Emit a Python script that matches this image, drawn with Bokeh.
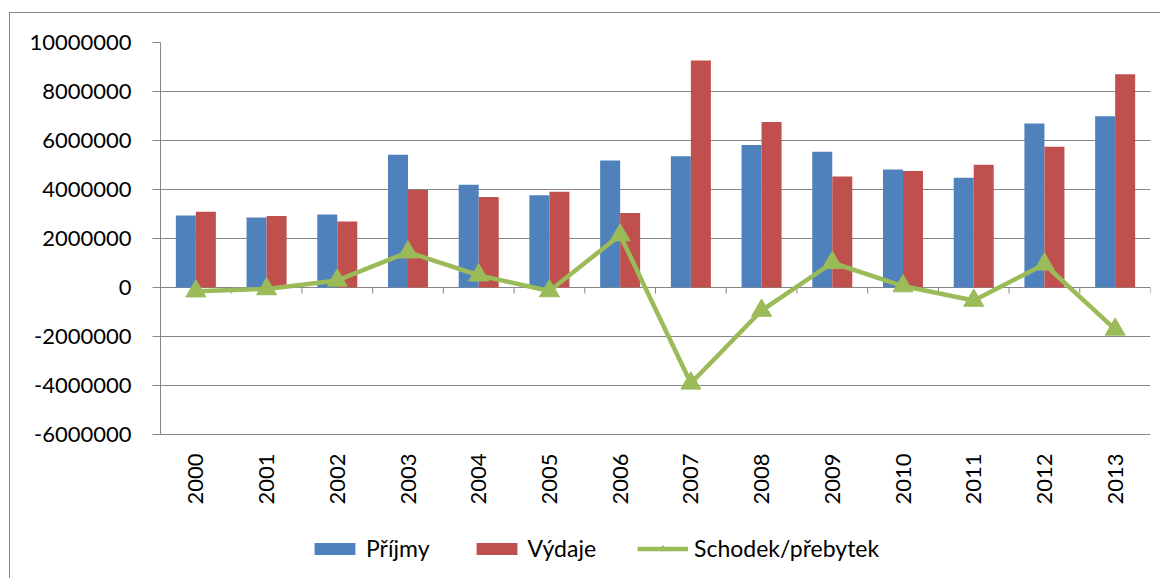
import math
from bokeh.plotting import figure
from bokeh.models import (FactorRange, Range1d, FixedTicker, PrintfTickFormatter,
                          Legend, LegendItem, ColumnDataSource)
from bokeh.transform import dodge
from bokeh.embed import file_html
from bokeh.resources import INLINE

years = ["2000", "2001", "2002", "2003", "2004", "2005", "2006",
         "2007", "2008", "2009", "2010", "2011", "2012", "2013"]
prijmy = [2940000, 2860000, 2980000, 5420000, 4190000, 3770000, 5180000,
          5360000, 5820000, 5540000, 4820000, 4480000, 6690000, 6990000]
vydaje = [3090000, 2920000, 2690000, 3980000, 3690000, 3910000, 3040000,
          9270000, 6760000, 4530000, 4760000, 5010000, 5740000, 8700000]
schodek = [-150000, -60000, 290000, 1440000, 500000, -140000, 2140000,
           -3910000, -940000, 1010000, 60000, -530000, 950000, -1710000]
y_ticks = [-6000000, -4000000, -2000000, 0, 2000000, 4000000, 6000000, 8000000, 10000000]

FONT = "Lato"
GREY = "#868686"
BLUE = "#4F81BD"
RED = "#C0504D"
GREEN = "#9BBB59"

# layout: 392 px of frame hold the value axis; the frame continues below it for labels/legend
AXIS_PX = 392
FRAME_PX = 536
per_px = (y_ticks[-1] - y_ticks[0]) / AXIS_PX
y_min = y_ticks[-1] - FRAME_PX * per_px

src = ColumnDataSource(dict(year=years, prijmy=prijmy, vydaje=vydaje, schodek=schodek))

p = figure(x_range=FactorRange(*years), y_range=Range1d(y_min, y_ticks[-1]),
           frame_width=990, frame_height=FRAME_PX, output_backend="svg", toolbar_location=None,
           min_border_left=150, min_border_right=10, min_border_top=29, min_border_bottom=0)
p.outline_line_color = None
p.styles = {"border-left": "1px solid " + GREY, "border-top": "1px solid " + GREY,
            "margin-left": "9px", "margin-top": "12px"}

bw = 0.283
r1 = p.vbar(x=dodge("year", -bw / 2, range=p.x_range), top="prijmy", width=bw, source=src,
            fill_color=BLUE, line_color=None)
r2 = p.vbar(x=dodge("year", bw / 2, range=p.x_range), top="vydaje", width=bw, source=src,
            fill_color=RED, line_color=None)

# category boundary ticks on the zero line
bounds = list(range(len(years) + 1))
tick_len = per_px * 6
p.segment(x0=bounds, y0=[0] * len(bounds), x1=bounds, y1=[-tick_len] * len(bounds),
          line_color=GREY, line_width=1)

rl = p.line(x="year", y="schodek", source=src, line_color=GREEN, line_width=4.5)
rs = p.scatter(x="year", y="schodek", source=src, marker="triangle", size=20,
               fill_color=GREEN, line_color=GREEN)

# y axis
p.yaxis.ticker = FixedTicker(ticks=y_ticks)
p.yaxis.bounds = (y_ticks[0], y_ticks[-1])
p.yaxis.formatter = PrintfTickFormatter(format="%d")
p.yaxis.major_tick_out = 8
p.yaxis.major_tick_in = 0
p.yaxis.minor_tick_line_color = None
p.yaxis.axis_line_color = GREY
p.yaxis.major_tick_line_color = GREY
p.yaxis.major_label_standoff = 21
p.yaxis.major_label_text_font = FONT
p.yaxis.major_label_text_font_size = "22px"
p.yaxis.major_label_text_color = "black"

p.ygrid.ticker = FixedTicker(ticks=y_ticks)
p.ygrid.grid_line_color = GREY
p.xgrid.grid_line_color = None

# x axis: labels hang below the -6000000 line
p.xaxis.fixed_location = y_ticks[0]
p.xaxis.axis_line_color = None
p.xaxis.major_tick_line_color = None
p.xaxis.major_tick_out = 0
p.xaxis.major_label_orientation = math.pi / 2
p.xaxis.major_label_standoff = 19
p.xaxis.major_label_text_font = FONT
p.xaxis.major_label_text_font_size = "22px"
p.xaxis.major_label_text_color = "black"

legend = Legend(items=[LegendItem(label="Příjmy", renderers=[r1]),
                       LegendItem(label="Výdaje", renderers=[r2]),
                       LegendItem(label="Schodek/přebytek", renderers=[rl, rs])],
                orientation="horizontal", location=(149, 16),
                glyph_width=51, glyph_height=15, label_standoff=6, spacing=41,
                padding=0, margin=0, border_line_color=None, background_fill_alpha=0,
                label_text_font=FONT, label_text_font_size="23px", label_text_color="black")
p.add_layout(legend)

open("out.html", "w").write(file_html(p, INLINE))
